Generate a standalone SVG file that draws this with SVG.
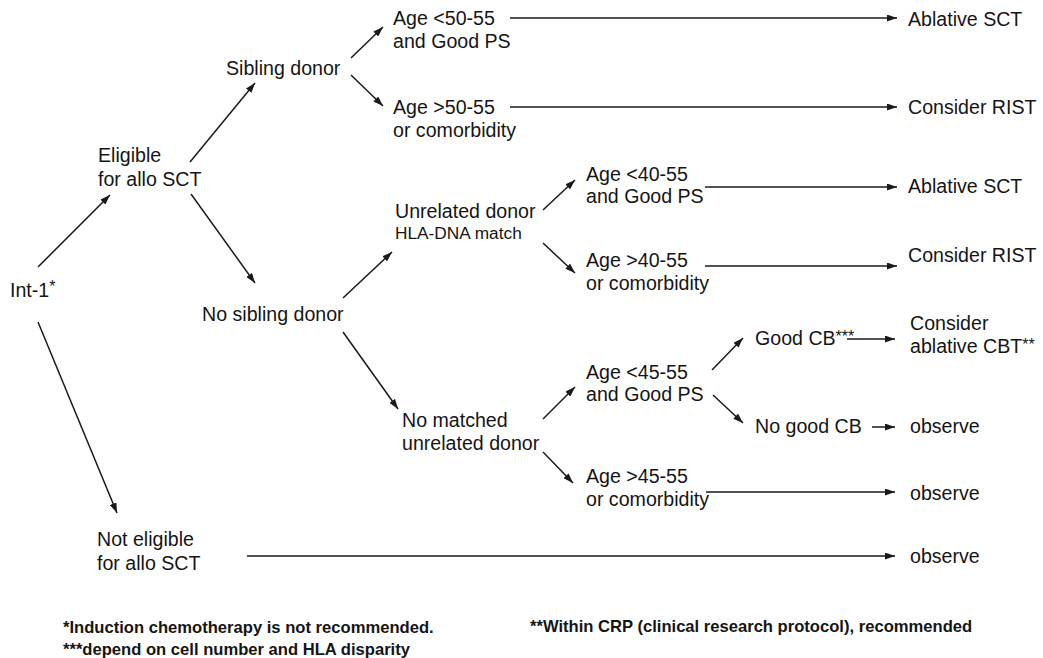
<svg xmlns="http://www.w3.org/2000/svg" width="1043" height="658" viewBox="0 0 1043 658">
<style>
text{font-family:"Liberation Sans",Arial,sans-serif;font-size:19.6px;fill:#151515}
.sm{font-size:17.3px}
.fn{font-size:16.6px;font-weight:bold}
.sup{font-size:16px}
.c line{stroke:#1a1a1a;stroke-width:1.5;fill:none}
</style>
<defs>
<marker id="ah" markerWidth="10" markerHeight="7" refX="10" refY="3.5" orient="auto" markerUnits="userSpaceOnUse">
<path d="M0,0 L10,3.5 L0,7 z" fill="#1a1a1a"/>
</marker>
</defs>
<rect width="1043" height="658" fill="#fff"/>
<g class="c" id="connectors">
<line x1="38" y1="267" x2="110" y2="195" marker-end="url(#ah)"/>
<line x1="38" y1="322" x2="117" y2="513" marker-end="url(#ah)"/>
<line x1="190" y1="162" x2="255" y2="83" marker-end="url(#ah)"/>
<line x1="191" y1="194" x2="255" y2="283" marker-end="url(#ah)"/>
<line x1="351" y1="58" x2="383" y2="27" marker-end="url(#ah)"/>
<line x1="351" y1="75" x2="383" y2="106" marker-end="url(#ah)"/>
<line x1="343" y1="298" x2="392" y2="252" marker-end="url(#ah)"/>
<line x1="343" y1="332" x2="398" y2="409" marker-end="url(#ah)"/>
<line x1="543" y1="210" x2="575" y2="180" marker-end="url(#ah)"/>
<line x1="543" y1="243" x2="575" y2="273" marker-end="url(#ah)"/>
<line x1="543" y1="419" x2="575" y2="387" marker-end="url(#ah)"/>
<line x1="543" y1="452" x2="573" y2="483" marker-end="url(#ah)"/>
<line x1="712" y1="370" x2="743" y2="338" marker-end="url(#ah)"/>
<line x1="713" y1="395" x2="743" y2="423" marker-end="url(#ah)"/>
<line x1="510" y1="18" x2="897" y2="18" marker-end="url(#ah)"/>
<line x1="510" y1="107" x2="897" y2="107" marker-end="url(#ah)"/>
<line x1="705" y1="187" x2="897" y2="187" marker-end="url(#ah)"/>
<line x1="705" y1="266" x2="897" y2="266" marker-end="url(#ah)"/>
<line x1="847" y1="339" x2="895" y2="339" marker-end="url(#ah)"/>
<line x1="872" y1="427" x2="895" y2="427" marker-end="url(#ah)"/>
<line x1="706" y1="492" x2="895" y2="492" marker-end="url(#ah)"/>
<line x1="247" y1="556" x2="895" y2="556" marker-end="url(#ah)"/>
</g>
<g id="int1"><text x="10" y="297">Int-1<tspan class="sup" dy="-5">*</tspan></text></g>
<g id="eligible"><text x="98" y="162">Eligible</text><text x="98" y="186">for allo SCT</text></g>
<g id="sibling"><text x="226" y="75">Sibling donor</text></g>
<g id="nosibling"><text x="202" y="321">No sibling donor</text></g>
<g id="noteligible"><text x="97" y="546">Not eligible</text><text x="97" y="570">for allo SCT</text></g>
<g id="age50lt"><text x="393" y="25">Age &lt;50-55</text><text x="393" y="48">and Good PS</text></g>
<g id="age50gt"><text x="393" y="114">Age &gt;50-55</text><text x="393" y="137">or comorbidity</text></g>
<g id="unrelated"><text x="395" y="218">Unrelated donor</text><text class="sm" x="395" y="239">HLA-DNA match</text></g>
<g id="age40lt"><text x="586" y="181">Age &lt;40-55</text><text x="586" y="203">and Good PS</text></g>
<g id="age40gt"><text x="586" y="267">Age &gt;40-55</text><text x="586" y="290">or comorbidity</text></g>
<g id="nomatched"><text x="402" y="427">No matched</text><text x="402" y="450">unrelated donor</text></g>
<g id="age45lt"><text x="586" y="379">Age &lt;45-55</text><text x="586" y="401">and Good PS</text></g>
<g id="age45gt"><text x="586" y="483">Age &gt;45-55</text><text x="586" y="506">or comorbidity</text></g>
<g id="goodcb"><text x="755" y="345">Good CB<tspan class="sup" dy="-3">***</tspan></text></g>
<g id="nogoodcb"><text x="755" y="433">No good CB</text></g>
<g id="abl1"><text x="908" y="26">Ablative SCT</text></g>
<g id="rist1"><text x="908" y="114">Consider RIST</text></g>
<g id="abl2"><text x="908" y="193">Ablative SCT</text></g>
<g id="rist2"><text x="908" y="262">Consider RIST</text></g>
<g id="cbt"><text x="910" y="330">Consider</text><text x="910" y="353">ablative CBT<tspan class="sup" dy="-3">**</tspan></text></g>
<g id="obs1"><text x="910" y="433">observe</text></g>
<g id="obs2"><text x="910" y="500">observe</text></g>
<g id="obs3"><text x="910" y="563">observe</text></g>
<g id="notes">
<text class="fn" x="63" y="633">*Induction chemotherapy is not recommended.</text>
<text class="fn" x="63" y="655">***depend on cell number and HLA disparity</text>
<text class="fn" x="530" y="632">**Within CRP (clinical research protocol), recommended</text>
</g>
</svg>
